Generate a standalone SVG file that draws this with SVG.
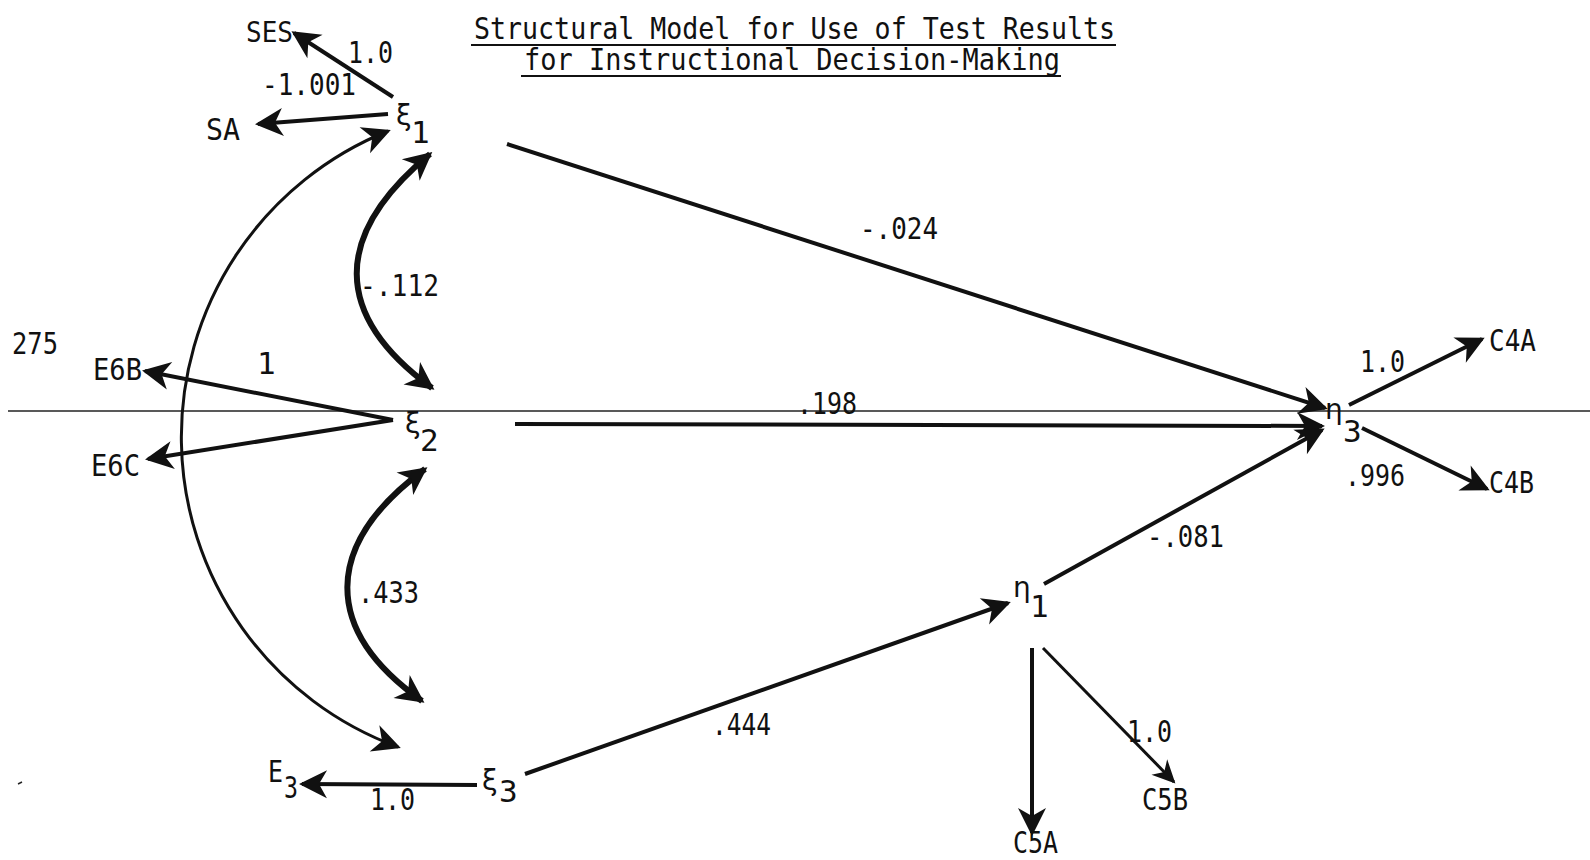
<svg xmlns="http://www.w3.org/2000/svg" width="1590" height="860" viewBox="0 0 1590 860">
  <style>
    .t { font-family: "DejaVu Sans Mono", "Liberation Mono", monospace; font-size: 31px; fill: #111; }
    .sm { font-size: 28px; }
    .ti { font-size: 30px; }
    .gk { font-family: "DejaVu Sans", "Noto Sans", sans-serif; font-size: 28px; fill: #111; }
    .ln { stroke: #111; fill: none; stroke-width: 4; }
    .thin { stroke-width: 3; }
    .bold { stroke-width: 6; }
    .rule { stroke: #222; stroke-width: 1.5; fill: none; }
    .ul { stroke: #111; stroke-width: 2; }
  </style>
  <defs>
    <marker id="head" markerUnits="userSpaceOnUse" markerWidth="36" markerHeight="36"
            viewBox="-30 -18 36 36" refX="0" refY="0" orient="auto-start-reverse">
      <path d="M 3 0 L -25 -14 L -17 0 L -25 14 Z" fill="#111"/>
    </marker>
    <marker id="head-sm" markerUnits="userSpaceOnUse" markerWidth="30" markerHeight="30"
            viewBox="-26 -15 30 30" refX="0" refY="0" orient="auto-start-reverse">
      <path d="M 2 0 L -21 -11 L -14 0 L -21 11 Z" fill="#111"/>
    </marker>
  </defs>

  <rect width="1590" height="860" fill="#fff"/>

  <!-- title -->
  <g id="title">
    <text class="t ti" x="474" y="39" textLength="641" lengthAdjust="spacingAndGlyphs">Structural Model for Use of Test Results</text>
    <line class="ul" x1="471" y1="45" x2="1116" y2="45"/>
    <text class="t ti" x="524" y="70" textLength="536" lengthAdjust="spacingAndGlyphs">for Instructional Decision-Making</text>
    <line class="ul" x1="521" y1="76" x2="1061" y2="76"/>
  </g>

  <!-- horizontal rule across the page -->
  <line class="rule" x1="8" y1="411" x2="1590" y2="411"/>
  <line class="rule" x1="18" y1="784" x2="22" y2="782"/>

  <!-- connectors -->
  <g id="connectors">
    <path class="ln" d="M 393 97 L 294 33" marker-end="url(#head)"/>
    <path class="ln" d="M 388 114 L 258 124" marker-end="url(#head)"/>
    <path class="ln thin" d="M 388 131 A 330 330 0 0 0 398 747" marker-start="url(#head)" marker-end="url(#head)"/>
    <path class="ln bold" d="M 430 154 C 332 235, 332 315, 432 388" marker-start="url(#head)" marker-end="url(#head)"/>
    <path class="ln bold" d="M 425 469 C 322 545, 322 630, 422 701" marker-start="url(#head)" marker-end="url(#head)"/>
    <path class="ln" d="M 507 144 L 1325 408" marker-end="url(#head)"/>
    <path class="ln" d="M 393 420 L 145 371" marker-end="url(#head)"/>
    <path class="ln" d="M 393 420 L 148 459" marker-end="url(#head)"/>
    <path class="ln" d="M 515 424 L 1322 426" marker-end="url(#head)"/>
    <path class="ln" d="M 525 774 L 1008 603" marker-end="url(#head)"/>
    <path class="ln" d="M 1044 584 L 1322 430" marker-end="url(#head)"/>
    <path class="ln" d="M 1349 405 L 1482 339" marker-end="url(#head)"/>
    <path class="ln" d="M 1362 428 L 1487 489" marker-end="url(#head)"/>
    <path class="ln" d="M 1032 648 L 1032 833" marker-end="url(#head)"/>
    <path class="ln thin" d="M 1043 648 L 1174 782" marker-end="url(#head-sm)"/>
    <path class="ln" d="M 477 785 L 302 784" marker-end="url(#head)"/>
  </g>

  <!-- coefficient labels -->
  <g id="labels">
    <text class="t" x="348" y="63" textLength="45" lengthAdjust="spacingAndGlyphs">1.0</text>
    <text class="t" x="262" y="95" textLength="94" lengthAdjust="spacingAndGlyphs">-1.001</text>
    <text class="t" x="860" y="239" textLength="78" lengthAdjust="spacingAndGlyphs">-.024</text>
    <text class="t" x="360" y="296" textLength="79" lengthAdjust="spacingAndGlyphs">-.112</text>
    <text class="t" x="12" y="354" textLength="46" lengthAdjust="spacingAndGlyphs">275</text>
    <text class="t" x="257" y="374">1</text>
    <text class="t" x="797" y="414" textLength="60" lengthAdjust="spacingAndGlyphs">.198</text>
    <text class="t" x="1360" y="372" textLength="45" lengthAdjust="spacingAndGlyphs">1.0</text>
    <text class="t" x="1345" y="486" textLength="60" lengthAdjust="spacingAndGlyphs">.996</text>
    <text class="t" x="1147" y="547" textLength="77" lengthAdjust="spacingAndGlyphs">-.081</text>
    <text class="t" x="358" y="603" textLength="61" lengthAdjust="spacingAndGlyphs">.433</text>
    <text class="t" x="712" y="735" textLength="59" lengthAdjust="spacingAndGlyphs">.444</text>
    <text class="t" x="1127" y="742" textLength="45" lengthAdjust="spacingAndGlyphs">1.0</text>
    <text class="t" x="370" y="810" textLength="45" lengthAdjust="spacingAndGlyphs">1.0</text>
  </g>

  <!-- indicator nodes -->
  <g id="node-SES"><text class="t sm" x="246" y="42" textLength="47" lengthAdjust="spacingAndGlyphs">SES</text></g>
  <g id="node-SA"><text class="t" x="206" y="140" textLength="34" lengthAdjust="spacingAndGlyphs">SA</text></g>
  <g id="node-E6B"><text class="t" x="93" y="380" textLength="49" lengthAdjust="spacingAndGlyphs">E6B</text></g>
  <g id="node-E6C"><text class="t" x="91" y="476" textLength="49" lengthAdjust="spacingAndGlyphs">E6C</text></g>
  <g id="node-C4A"><text class="t" x="1489" y="351" textLength="47" lengthAdjust="spacingAndGlyphs">C4A</text></g>
  <g id="node-C4B"><text class="t" x="1489" y="493" textLength="45" lengthAdjust="spacingAndGlyphs">C4B</text></g>
  <g id="node-C5B"><text class="t" x="1142" y="810" textLength="46" lengthAdjust="spacingAndGlyphs">C5B</text></g>
  <g id="node-C5A"><text class="t" x="1013" y="853" textLength="45" lengthAdjust="spacingAndGlyphs">C5A</text></g>
  <g id="node-E3">
    <text class="t" x="268" y="782" textLength="15" lengthAdjust="spacingAndGlyphs">E</text>
    <text class="t" x="284" y="798" textLength="14" lengthAdjust="spacingAndGlyphs">3</text>
  </g>

  <!-- latent variable nodes -->
  <g id="node-xi1">
    <text class="gk" x="396" y="125">ξ</text>
    <text class="t" x="411" y="143">1</text>
  </g>
  <g id="node-xi2">
    <text class="gk" x="405" y="433">ξ</text>
    <text class="t" x="420" y="451">2</text>
  </g>
  <g id="node-xi3">
    <text class="gk" x="482" y="790">ξ</text>
    <text class="t" x="499" y="802">3</text>
  </g>
  <g id="node-eta1">
    <text class="gk" x="1013" y="597">η</text>
    <text class="t" x="1030" y="617">1</text>
  </g>
  <g id="node-eta3">
    <text class="gk" x="1325" y="419">η</text>
    <text class="t" x="1343" y="442">3</text>
  </g>
</svg>
